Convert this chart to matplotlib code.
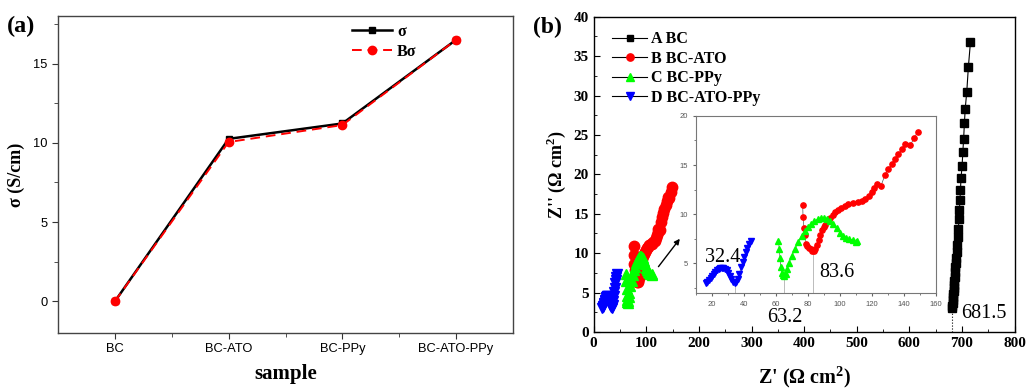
import matplotlib
matplotlib.use("Agg")
import matplotlib.pyplot as plt
from matplotlib.ticker import MultipleLocator

plt.rcParams['mathtext.fontset'] = 'custom'
plt.rcParams['mathtext.rm'] = 'Liberation Serif:bold'
plt.rcParams['mathtext.bf'] = 'Liberation Serif:bold'

# ---------- data panel (a) ----------
samples = ["BC", "BC-ATO", "BC-PPy", "BC-ATO-PPy"]
sigma = [0.0, 10.25, 11.22, 16.5]
b_sigma = [0.0, 10.05, 11.12, 16.5]

# ---------- data panel (b) ----------
bc_x = [681, 681.5, 682, 682.5, 683, 683.5, 684, 684.5, 685, 685.5, 686, 687, 687.5,
        688, 689, 690, 691, 692, 693, 694, 695, 696, 697, 698, 700, 701.5, 703,
        704.5, 706, 709, 712, 716]
bc_y = [3.0, 3.3, 3.7, 4.0, 4.4, 4.8, 5.2, 5.6, 6.0, 6.5, 7.0, 7.6, 8.2, 8.8, 9.4,
        10.2, 11.0, 12.0, 13.0, 14.3, 15.5, 16.8, 18.0, 19.5, 21.0, 22.8, 24.5,
        26.5, 28.3, 30.5, 33.6, 36.8]

ato_x = [76.7, 76.9, 77.5, 78.2, 78.8, 79.5, 80.5, 81.6, 82.6, 83.6, 84.7, 85.7, 86.7,
         87.8, 88.8, 89.9, 90.9, 92.5, 94.0, 95.5, 97.0, 99.0, 101.0, 103.2, 105.4,
         108.5, 111.6, 113.7, 115.8, 118.0, 120.0, 121.5, 123.0, 125.8, 128.3, 130.4,
         132.5, 134.5, 136.6, 138.7, 140.8, 143.9, 146.6, 148.7]
ato_y = [10.9, 9.7, 8.6, 7.9, 7.0, 6.8, 6.6, 6.5, 6.3, 6.3, 6.5, 6.9, 7.4, 7.9, 8.4,
         8.7, 8.9, 9.3, 9.6, 9.9, 10.2, 10.4, 10.6, 10.8, 11.0, 11.1, 11.2, 11.35,
         11.5, 11.9, 12.3, 12.7, 13.1, 12.9, 14.0, 14.6, 15.1, 15.6, 16.1, 16.6,
         17.1, 17.0, 17.7, 18.4]

ppy_x = [61.5, 62.0, 62.5, 63.0, 63.5, 64.2, 65.0, 66.0, 67.0, 68.0, 70.0, 72.0, 74.0,
         76.0, 78.0, 80.0, 82.0, 84.0, 86.0, 88.0, 90.0, 92.0, 94.0, 96.0, 98.0,
         100.0, 102.0, 104.0, 106.0, 108.0, 110.0, 111.0]
ppy_y = [7.3, 6.5, 5.5, 4.6, 4.0, 3.8, 3.7, 3.9, 4.4, 5.0, 5.8, 6.5, 7.2, 7.8, 8.3,
         8.7, 9.0, 9.3, 9.5, 9.6, 9.65, 9.55, 9.35, 9.0, 8.6, 8.1, 7.8, 7.6, 7.5,
         7.35, 7.2, 7.3]

atoppy_x = [16, 17, 18, 19, 20, 21, 22, 23, 24, 25, 26, 27, 28, 29, 30, 31, 32, 33,
            34, 35, 36, 37, 38, 39, 40, 41, 42, 43, 44]
atoppy_y = [3.0, 3.1, 3.3, 3.5, 3.7, 3.9, 4.1, 4.3, 4.4, 4.5, 4.5, 4.5, 4.4, 4.3, 4.0,
            3.7, 3.4, 3.1, 3.0, 3.1, 3.4, 3.9, 4.6, 5.1, 5.6, 6.2, 6.6, 7.0, 7.3]

series_labels = ["A BC", "B BC-ATO", "C BC-PPy", "D BC-ATO-PPy"]

SERIF = "Liberation Serif"
SANS = "Liberation Sans"

fig = plt.figure(figsize=(10.27, 3.90), dpi=100)

# ---------- panel (a) ----------
axa = fig.add_axes([0.0565, 0.146, 0.443, 0.813])
xs = list(range(len(samples)))
axa.plot(xs, sigma, color="black", lw=1.8, marker="s", ms=5, label="σ", zorder=3)
axa.plot(xs, b_sigma, color="red", lw=1.4, ls=(0, (5, 3)), marker="o", ms=6,
         label="Bσ", zorder=4)
axa.set_xlim(-0.5, 3.5)
axa.set_ylim(-2, 18)
axa.set_xticks(xs)
axa.set_xticklabels(samples, fontfamily=SANS, fontsize=9.3)
axa.set_xticks([0.5, 1.5, 2.5], minor=True)
axa.yaxis.set_major_locator(MultipleLocator(5))
axa.yaxis.set_minor_locator(MultipleLocator(2.5))
for lab in axa.get_yticklabels():
    lab.set_fontfamily(SANS)
    lab.set_fontsize(9.3)
axa.tick_params(direction="out", which="both", colors="#333333", labelcolor="black")
axa.tick_params(which="major", length=4)
axa.tick_params(which="minor", length=3)
for sp in axa.spines.values():
    sp.set_color("#444444")
    sp.set_linewidth(1.0)
axa.set_xlabel("sample", fontfamily=SERIF, fontweight="bold", fontsize=15, labelpad=6)
axa.set_ylabel("σ (S/cm)", fontfamily=SERIF, fontweight="bold", fontsize=13, labelpad=6)
leg = axa.legend(loc="upper right", bbox_to_anchor=(0.82, 1.02), frameon=False,
                 prop={"family": SERIF, "weight": "bold", "size": 11.5},
                 handlelength=2.5, handletextpad=0.3, labelspacing=0.25)
fig.text(0.007, 0.918, "(a)", fontfamily=SERIF, fontweight="bold", fontsize=17.5)

# ---------- panel (b) ----------
axb = fig.add_axes([0.578, 0.149, 0.410, 0.808])
mk = dict(lw=0.8)
axb.plot(bc_x, bc_y, color="black", marker="s", ms=6, mfc="black", mec="black",
         label=series_labels[0], **mk)
axb.plot(ato_x, ato_y, color="black", marker="o", ms=7.5, mfc="red", mec="red",
         label=series_labels[1], **mk)
axb.plot(ppy_x, ppy_y, color="black", marker="^", ms=7.5, mfc="#00ff00", mec="#00ff00",
         label=series_labels[2], **mk)
axb.plot(atoppy_x, atoppy_y, color="black", marker="v", ms=7.5, mfc="blue", mec="blue",
         label=series_labels[3], **mk)
axb.plot([681.5, 681.5], [0, 3], color="black", ls=":", lw=0.8)
axb.set_xlim(0, 800)
axb.set_ylim(0, 40)
axb.xaxis.set_major_locator(MultipleLocator(100))
axb.xaxis.set_minor_locator(MultipleLocator(50))
axb.yaxis.set_major_locator(MultipleLocator(5))
axb.yaxis.set_minor_locator(MultipleLocator(2.5))
axb.tick_params(direction="in", which="both", labelsize=11)
axb.tick_params(which="major", length=4)
axb.tick_params(which="minor", length=2.5)
for lab in axb.get_xticklabels() + axb.get_yticklabels():
    lab.set_fontfamily(SERIF)
    lab.set_fontweight("bold")
for sp in axb.spines.values():
    sp.set_linewidth(1.0)
axb.set_xlabel("Z' (Ω cm$^{2}$)", fontfamily=SERIF, fontweight="bold", fontsize=14.5,
               labelpad=10)
axb.set_ylabel("Z'' (Ω cm$^{2}$)", fontfamily=SERIF, fontweight="bold", fontsize=13,
               labelpad=4)
axb.legend(loc="upper left", bbox_to_anchor=(0.01, 1.0), frameon=False,
           prop={"family": SERIF, "weight": "bold", "size": 11.5},
           handlelength=2.2, handletextpad=0.2, labelspacing=0.22, markerscale=0.7)
axb.annotate("", xy=(167, 12.1), xytext=(120, 8.0),
             arrowprops=dict(arrowstyle="-|>", color="black", lw=1.0,
                             mutation_scale=8))
axb.text(330, 1.3, "63.2", fontfamily=SERIF, fontsize=14.5)
axb.text(698, 1.8, "681.5", fontfamily=SERIF, fontsize=14.5)
fig.text(0.519, 0.915, "(b)", fontfamily=SERIF, fontweight="bold", fontsize=17)

# ---------- inset ----------
axi = fig.add_axes([0.678, 0.249, 0.233, 0.454])
axi.plot(ato_x, ato_y, color="#555555", lw=0.5, marker="o", ms=3.8, mfc="red", mec="red")
axi.plot(ppy_x, ppy_y, color="#555555", lw=0.5, marker="^", ms=3.8, mfc="#00ff00",
         mec="#00ff00")
axi.plot(atoppy_x, atoppy_y, color="#555555", lw=0.5, marker="v", ms=3.8, mfc="blue",
         mec="blue")
for xv, yv in [(34, 3.0), (64.8, 3.7), (83.2, 6.3)]:
    axi.plot([xv, xv], [2, yv], color="#bbbbbb", lw=0.7, zorder=0)
axi.set_xlim(10, 160)
axi.set_ylim(2, 20)
axi.xaxis.set_major_locator(MultipleLocator(20))
axi.xaxis.set_minor_locator(MultipleLocator(10))
axi.yaxis.set_major_locator(MultipleLocator(5))
axi.yaxis.set_minor_locator(MultipleLocator(2.5))
axi.tick_params(direction="out", which="both", labelsize=5.5, colors="#666666",
                labelcolor="#555555")
axi.tick_params(which="major", length=2.5)
axi.tick_params(which="minor", length=1.5)
for lab in axi.get_xticklabels() + axi.get_yticklabels():
    lab.set_fontfamily(SANS)
for sp in axi.spines.values():
    sp.set_color("#777777")
    sp.set_linewidth(0.8)
axi.text(15.6, 5.1, "32.4", fontfamily=SERIF, fontsize=14.5)
axi.text(86.9, 3.6, "83.6", fontfamily=SERIF, fontsize=14.5)

fig.savefig("out.png", dpi=100)
